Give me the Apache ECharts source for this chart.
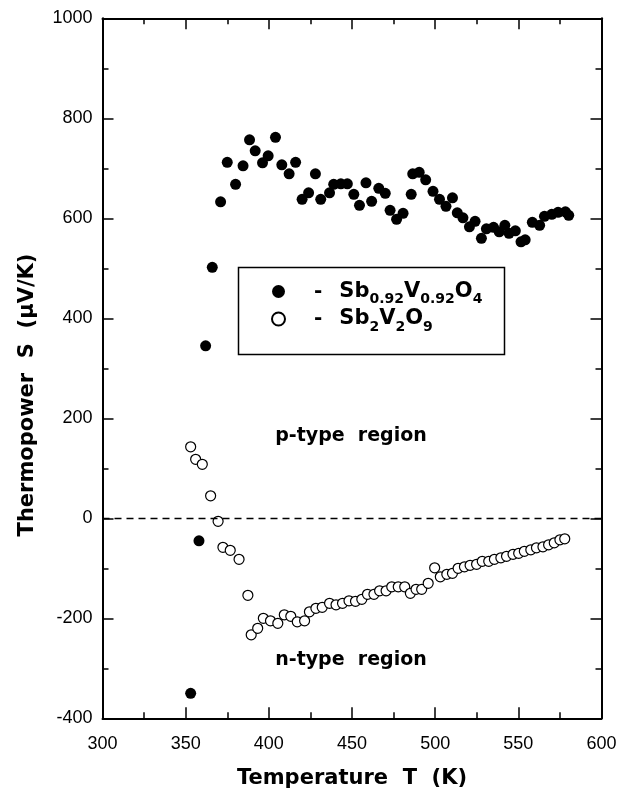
<!DOCTYPE html>
<html>
<head>
<meta charset="utf-8" />
<title>Thermopower</title>
<script src="https://cdn.jsdelivr.net/npm/echarts@6/dist/echarts.min.js"></script>
<style>
  html, body { margin: 0; padding: 0; background: #fff; }
  #main { width: 636px; height: 801px; }
</style>
</head>
<body>
<div id="main"></div>
<script type="text/javascript">
// Sb0.92V0.92O4 (filled circles)
var tempP = [353, 358, 362, 366, 371, 375, 380, 384.5, 388.4, 391.8, 396.2, 399.6, 404, 407.8, 412.2, 416.1,
  420, 423.9, 428, 431.2, 436.5, 439, 443.3, 447.2, 451.1, 454.5, 458.4, 461.8, 466.1, 470, 472.9, 476.8,
  480.7, 485.6, 486.5, 490.4, 494.3, 498.7, 502.6, 506.5, 510.4, 513.3, 516.7, 520.6, 524, 527.8, 530.8,
  535.1, 538.5, 541.9, 544.4, 548.2, 551.6, 554.1, 558.4, 562.8, 565.7, 570.1, 573.9, 578.3, 580.3];
var thermoP = [-350, -45, 345, 502, 633, 712, 668, 705, 757, 735, 711, 725, 762, 707, 689, 712,
  638, 651, 689, 638, 651, 668, 669, 669, 648, 626, 671, 634, 660, 650, 616, 598,
  610, 648, 689, 692, 677, 654, 638, 624, 641, 611, 601, 583, 594, 560, 579,
  582, 573, 586, 570, 575, 553, 557, 592, 586, 604, 608, 612, 613, 606];

// Sb2V2O9 (open circles)
var tempN = [353, 356, 360, 365, 369.5, 372.4, 376.8, 382.1, 387.4, 389.4, 393.3, 396.7, 401, 405.4, 409.3,
  413.2, 417.1, 421.5, 424.4, 428.3, 432.1, 436.5, 440.4, 444.3, 448.2, 452.1, 455.9, 459.3, 463.2, 466.6,
  470.5, 473.9, 477.8, 481.7, 485.1, 488.5, 491.9, 495.8, 499.7, 503.1, 507, 510.4, 513.8, 517.6, 521,
  524.9, 528.3, 532.2, 535.6, 539.5, 542.9, 546.8, 550.2, 553.6, 557.5, 560.9, 564.8, 568.2, 571.6, 575, 577.9];
var thermoN = [143, 118, 108, 45, -6, -58, -64, -82, -154, -233, -220, -200, -205, -210, -193,
  -196, -207, -205, -187, -180, -178, -170, -173, -170, -165, -166, -162, -152, -152, -145,
  -145, -137, -137, -137, -150, -142, -142, -130, -99, -117, -112, -110, -100, -97, -94,
  -92, -86, -86, -82, -79, -76, -72, -70, -66, -63, -59, -57, -53, -49, -43, -41];

var xTicks = [300, 600, 50];
var yTicks = [-400, 1000, 200];

function zip(xs, ys) {
  var out = [];
  for (var i = 0; i < xs.length; i++) out.push([xs[i], ys[i]]);
  return out;
}

var titleFont = 'DejaVu Sans';
var numFont = 'Liberation Sans';

var chart = echarts.init(document.getElementById('main'));

var baseX = {
  type: 'value', min: xTicks[0], max: xTicks[1], interval: xTicks[2],
  axisLine: { onZero: false, lineStyle: { color: '#000', width: 2 } },
  axisTick: { inside: true, length: 11, lineStyle: { color: '#000', width: 1.5 } },
  minorTick: { show: true, splitNumber: 2, length: 6, lineStyle: { color: '#000', width: 1.5 } },
  splitLine: { show: false }
};
var baseY = {
  type: 'value', min: yTicks[0], max: yTicks[1], interval: yTicks[2],
  axisLine: { onZero: false, lineStyle: { color: '#000', width: 2 } },
  axisTick: { inside: true, length: 11, lineStyle: { color: '#000', width: 1.5 } },
  minorTick: { show: true, splitNumber: 2, length: 6, lineStyle: { color: '#000', width: 1.5 } },
  splitLine: { show: false }
};

var richLegend = {
  g1: { width: 24 },
  d: { fontSize: 20, fontWeight: 'bold', fontFamily: titleFont, color: '#000', lineHeight: 30 },
  g2: { width: 17 },
  b: { fontSize: 21, fontWeight: 'bold', fontFamily: titleFont, color: '#000', lineHeight: 30 },
  s: { fontSize: 14, fontWeight: 'bold', fontFamily: titleFont, color: '#000', verticalAlign: 'bottom' }
};

var option = {
  animation: false,
  backgroundColor: '#fff',
  grid: { left: 102.5, right: 34.5, top: 18.3, bottom: 82.7, containLabel: false },
  xAxis: [
    Object.assign({}, baseX, {
      position: 'bottom',
      axisLabel: { color: '#000', fontSize: 18, fontFamily: numFont, margin: 17 },
      name: 'Temperature  T  (K)',
      nameLocation: 'middle',
      nameGap: 50,
      nameTextStyle: { color: '#000', fontSize: 21, fontWeight: 'bold', fontFamily: titleFont }
    }),
    Object.assign({}, baseX, { position: 'top', axisLabel: { show: false } })
  ],
  yAxis: [
    Object.assign({}, baseY, {
      position: 'left',
      axisLabel: { color: '#000', fontSize: 18, fontFamily: numFont, margin: 10,
        formatter: function (v) { return String(v); } }
    }),
    Object.assign({}, baseY, { position: 'right', axisLabel: { show: false } })
  ],
  legend: {
    orient: 'vertical',
    left: 266,
    top: 276,
    itemWidth: 13,
    itemHeight: 13,
    itemGap: 2,
    icon: 'circle',
    data: ['Sb0.92V0.92O4', 'Sb2V2O9'],
    formatter: function (name) {
      if (name === 'Sb0.92V0.92O4') {
        return '{g1|}{d|-}{g2|}{b|Sb}{s|0.92}{b|V}{s|0.92}{b|O}{s|4}';
      }
      return '{g1|}{d|-}{g2|}{b|Sb}{s|2}{b|V}{s|2}{b|O}{s|9}';
    },
    textStyle: { rich: richLegend }
  },
  graphic: [
    {
      type: 'rect', left: 236, top: 265, z: 5,
      shape: { width: 266, height: 87 },
      style: { fill: 'none', stroke: '#000', lineWidth: 1.5 }
    },
    {
      type: 'text', x: 28, y: 395, rotation: Math.PI / 2,
      style: {
        text: 'Thermopower  S  (\u03bcV/K)', fill: '#000',
        font: 'bold 21px ' + titleFont, align: 'center', verticalAlign: 'middle'
      }
    },
    {
      type: 'text', x: 351, y: 436,
      style: {
        text: 'p-type  region', fill: '#000',
        font: 'bold 19px ' + titleFont, align: 'center', verticalAlign: 'middle'
      }
    },
    {
      type: 'text', x: 351, y: 660,
      style: {
        text: 'n-type  region', fill: '#000',
        font: 'bold 19px ' + titleFont, align: 'center', verticalAlign: 'middle'
      }
    }
  ],
  series: [
    {
      name: 'Sb0.92V0.92O4',
      type: 'scatter',
      symbol: 'circle',
      symbolSize: 11,
      itemStyle: { color: '#000', opacity: 1 },
      data: zip(tempP, thermoP),
      markLine: {
        silent: true,
        symbol: 'none',
        label: { show: false },
        lineStyle: { color: '#000', type: [7, 5], width: 1.3 },
        data: [{ yAxis: 0 }]
      }
    },
    {
      name: 'Sb2V2O9',
      type: 'scatter',
      symbol: 'circle',
      symbolSize: 10,
      itemStyle: { color: '#fff', borderColor: '#000', borderWidth: 1.2, opacity: 1 },
      data: zip(tempN, thermoN)
    }
  ]
};

chart.setOption(option);
</script>
</body>
</html>
